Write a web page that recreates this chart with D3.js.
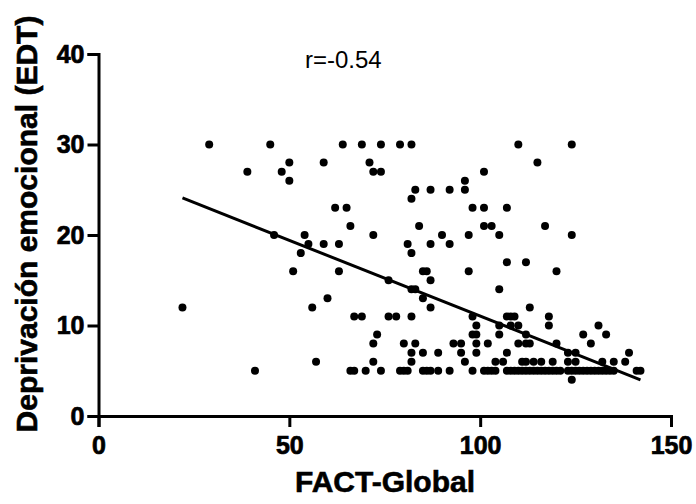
<!DOCTYPE html>
<html>
<head>
<meta charset="utf-8">
<script src="https://cdn.jsdelivr.net/npm/d3@7"></script>
<style>
  body { margin: 0; background: #fff; }
  svg { display: block; font-family: "Liberation Sans", Arial, sans-serif; }
</style>
</head>
<body>
<div id="chart"></div>
<script>
// Scatter data (FACT-Global vs EDT)
const factGlobal = [
    29, 45, 64, 69, 74, 79, 82, 110, 124,           // y 30
    50, 59, 71, 115,                                 // y 28
    39, 48, 72, 74, 101,                             // y 27
    50, 96,                                          // y 26
    83, 87, 92, 96,                                  // y 25
    82,                                              // y 24
    62, 65, 98, 101, 107,                            // y 23
    66, 84, 101, 103, 117,                           // y 21
    46, 54, 72, 90, 97, 105, 124,                    // y 20
    55, 59, 63, 81, 87, 92,                          // y 19
    53, 82,                                          // y 18
    107, 112,                                        // y 17
    51, 63, 85, 86, 97, 120,                         // y 16
    76, 87,                                          // y 15
    82, 83, 105,                                     // y 14
    60, 85,                                          // y 13
    22, 56, 87, 113,                                 // y 12
    67, 69, 76, 78, 82, 98, 107, 108, 109, 118,      // y 11
    99, 105, 108, 110, 118, 131,                     // y 10
    73, 98, 99, 105, 112, 127, 133,                  // y 9
    72, 80, 83, 93, 95, 99, 102, 110, 112, 113, 120, 129,   // y 8
    82, 85, 89, 95, 99, 107, 123, 125, 139,          // y 7
    57, 72, 82, 96, 104, 106, 111, 112, 114, 116, 119, 123, 125, 132, 135, 138, // y 6
    41, 66, 67, 70, 74, 79, 80, 81, 85, 86, 87, 89, 92, 98, 101, 102, 103, 104,
    107, 108, 109, 110, 111, 112, 113, 114, 115, 116, 117, 118, 119, 120, 121,
    123, 124, 125, 126, 127, 128, 129, 130, 131, 132, 133, 134, 135, 141, 142, // y 5
    124                                              // y 4
];
const edt = [
    30, 30, 30, 30, 30, 30, 30, 30, 30,
    28, 28, 28, 28,
    27, 27, 27, 27, 27,
    26, 26,
    25, 25, 25, 25,
    24,
    23, 23, 23, 23, 23,
    21, 21, 21, 21, 21,
    20, 20, 20, 20, 20, 20, 20,
    19, 19, 19, 19, 19, 19,
    18, 18,
    17, 17,
    16, 16, 16, 16, 16, 16,
    15, 15,
    14, 14, 14,
    13, 13,
    12, 12, 12, 12,
    11, 11, 11, 11, 11, 11, 11, 11, 11, 11,
    10, 10, 10, 10, 10, 10,
    9, 9, 9, 9, 9, 9, 9,
    8, 8, 8, 8, 8, 8, 8, 8, 8, 8, 8, 8,
    7, 7, 7, 7, 7, 7, 7, 7, 7,
    6, 6, 6, 6, 6, 6, 6, 6, 6, 6, 6, 6, 6, 6, 6, 6,
    5, 5, 5, 5, 5, 5, 5, 5, 5, 5, 5, 5, 5, 5, 5, 5, 5, 5,
    5, 5, 5, 5, 5, 5, 5, 5, 5, 5, 5, 5, 5, 5, 5,
    5, 5, 5, 5, 5, 5, 5, 5, 5, 5, 5, 5, 5, 5, 5,
    4
];

// Regression line end points
const fitX = [22, 142];
const fitY = [24.1, 4.0];

const xTicks = [0, 50, 100, 150];
const yTicks = [0, 10, 20, 30, 40];
const rLabel = "r=-0.54";
const xTitle = "FACT-Global";
const yTitle = "Deprivación emocional (EDT)";

const width = 696, height = 504;

const svg = d3.select("#chart").append("svg")
    .attr("width", width)
    .attr("height", height);

const x = d3.scaleLinear().domain([0, 150]).range([98.5, 671]);
const y = d3.scaleLinear().domain([0, 40]).range([416, 54]);

// Y axis
const yAxis = svg.append("g")
    .attr("transform", `translate(${x(0)},0)`)
    .call(d3.axisLeft(y).tickValues(yTicks).tickSizeOuter(0).tickSize(11).tickPadding(3));

// X axis
const xAxis = svg.append("g")
    .attr("transform", `translate(0,${y(0)})`)
    .call(d3.axisBottom(x).tickValues(xTicks).tickSizeOuter(0).tickSize(11).tickPadding(9));

[xAxis, yAxis].forEach(g => {
    g.select(".domain").attr("stroke", "#000").attr("stroke-width", 3);
    g.selectAll(".tick line").attr("stroke", "#000").attr("stroke-width", 3);
    g.selectAll(".tick text")
        .attr("fill", "#000")
        .attr("stroke", "#000")
        .attr("stroke-width", 0.7)
        .style("font-size", "25px")
        .style("font-weight", "bold")
        .style("font-family", "'Liberation Sans', Arial, sans-serif");
});

// Points
const points = factGlobal.map((v, i) => ({ fact: v, edt: edt[i] }));
svg.selectAll(".dot")
    .data(points)
    .enter().append("circle")
    .attr("class", "dot")
    .attr("cx", d => x(d.fact))
    .attr("cy", d => y(d.edt))
    .attr("r", 4)
    .attr("fill", "#000");

// Fit line
const line = d3.line()
    .x(d => x(d[0]))
    .y(d => y(d[1]));
svg.append("path")
    .datum(fitX.map((v, i) => [v, fitY[i]]))
    .attr("fill", "none")
    .attr("stroke", "#000")
    .attr("stroke-width", 3)
    .attr("d", line);

// r label
svg.append("text")
    .attr("x", 305)
    .attr("y", 67.5)
    .style("font-size", "24px")
    .text(rLabel);

// Axis titles
svg.append("text")
    .attr("x", 385)
    .attr("y", 492)
    .attr("text-anchor", "middle")
    .attr("stroke", "#000")
    .attr("stroke-width", 0.6)
    .style("font-size", "30px")
    .style("font-weight", "bold")
    .text(xTitle);

svg.append("text")
    .attr("transform", "translate(37,224) rotate(-90)")
    .attr("text-anchor", "middle")
    .attr("stroke", "#000")
    .attr("stroke-width", 0.6)
    .style("font-size", "30px")
    .style("font-weight", "bold")
    .text(yTitle);
</script>
</body>
</html>
